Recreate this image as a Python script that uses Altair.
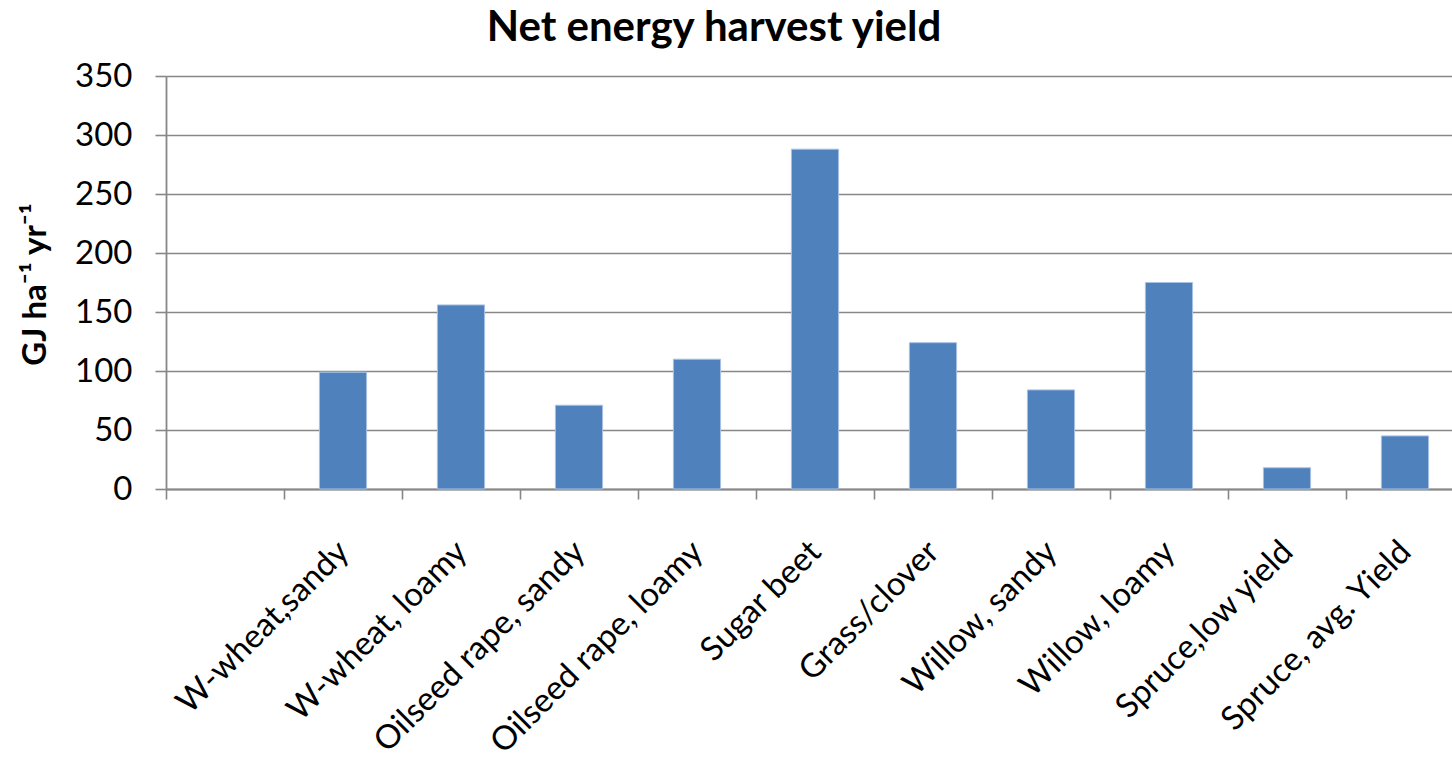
import altair as alt
import pandas as pd

# Net energy harvest yield per crop (GJ per hectare per year)
crops = [
    "W-wheat,sandy",
    "W-wheat, loamy",
    "Oilseed rape, sandy",
    "Oilseed rape, loamy",
    "Sugar beet",
    "Grass/clover",
    "Willow, sandy",
    "Willow, loamy",
    "Spruce,low yield",
    "Spruce, avg. Yield",
]
net_energy = [99, 156, 71, 110, 288, 124, 84, 175, 18, 45]

# category slots on the x axis: a blank leading slot, then the crops
slots = [""] + crops
y_ticks = [0, 50, 100, 150, 200, 250, 300, 350]

df = pd.DataFrame({"crop": crops, "yield": net_energy})

FONT = "Lato"
GRID = "#878787"
BAR = "#4F81BD"

bars = alt.Chart(df).mark_bar(
    color=BAR, stroke="#a9c2e4", strokeWidth=1, width={"band": 0.4}
).encode(
    x=alt.X(
        "crop:N",
        sort=None,
        scale=alt.Scale(domain=slots, range=[0, 1298], paddingInner=0, paddingOuter=0),
        axis=alt.Axis(
            title=None,
            labelAngle=-45,
            labelAlign="right",
            labelBaseline="top",
            labelFont=FONT,
            labelFontSize=33,
            labelColor="black",
            labelPadding=36,
            labelOffset=-11,
            labelLimit=1000,
            labelOverlap=False,
            tickBand="extent",
            tickSize=10,
            tickWidth=1.6,
            tickColor=GRID,
            domainColor=GRID,
            domainWidth=2,
            grid=False,
        ),
    ),
    y=alt.Y(
        "yield:Q",
        scale=alt.Scale(domain=[0, 350], nice=False),
        axis=alt.Axis(
            title="GJ ha⁻¹ yr⁻¹",
            values=y_ticks,
            labelFont=FONT,
            labelFontSize=33,
            labelColor="black",
            labelPadding=23,
            tickSize=11,
            tickWidth=1.6,
            tickColor=GRID,
            domainColor=GRID,
            domainWidth=1.8,
            grid=True,
            gridColor=GRID,
            gridWidth=1.6,
            titleFont=FONT,
            titleFontSize=33,
            titleFontWeight="bold",
            titleColor="black",
            titleX=-121,
            titleY=208,
            titleAlign="center",
            titleBaseline="alphabetic",
        ),
    ),
)

chart = bars.properties(
    width=1286,
    height=413,
    title=alt.TitleParams(
        text="Net energy harvest yield",
        font=FONT,
        fontSize=42,
        fontWeight="bold",
        color="black",
        anchor="middle",
        frame="group",
        baseline="alphabetic",
        offset=23,
        dx=-95,
        dy=46,
    ),
    autosize=alt.AutoSizeParams(type="none"),
    padding={"left": 166, "top": 76, "right": 0, "bottom": 270},
    background="white",
).configure_view(stroke=None)

chart.save("out.html", embed_options={"renderer": "svg", "actions": False})
